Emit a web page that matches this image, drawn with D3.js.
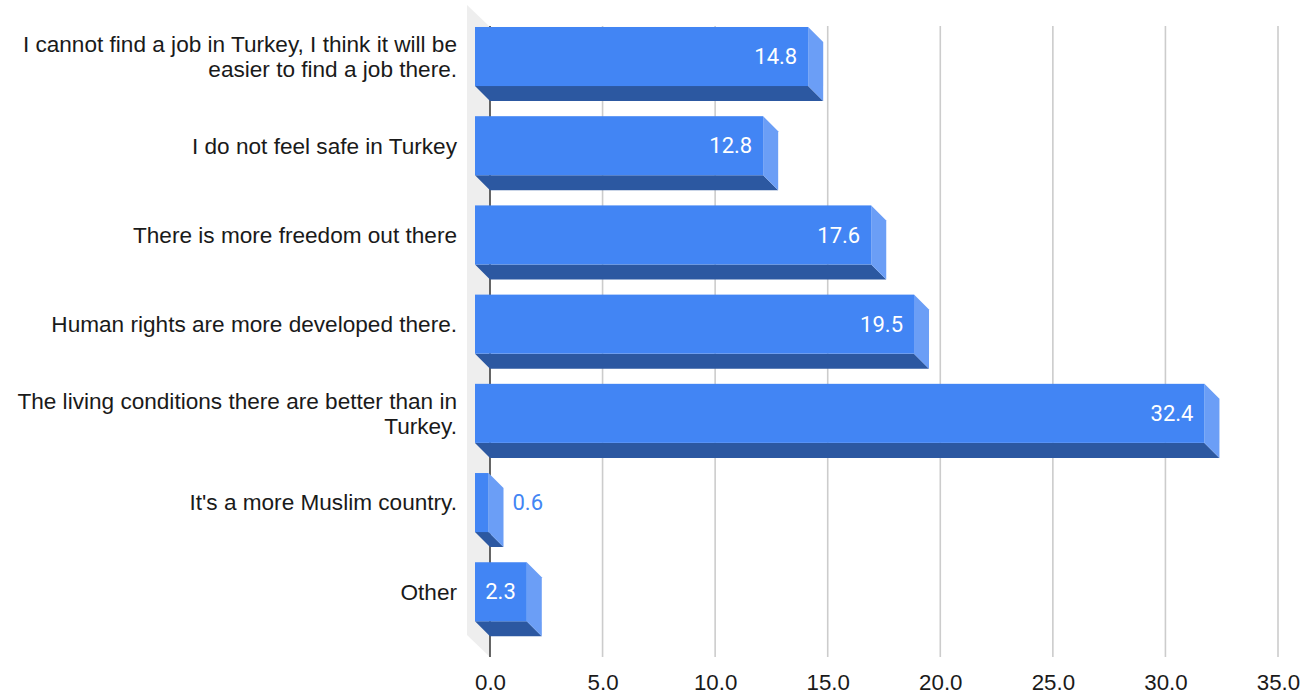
<!DOCTYPE html>
<html>
<head>
<meta charset="utf-8">
<script src="https://cdn.jsdelivr.net/npm/d3@7/dist/d3.min.js"></script>
<style>
  html, body { margin: 0; padding: 0; background: #ffffff; }
  svg { display: block; }
</style>
</head>
<body>
<svg id="chart" width="1313" height="698"></svg>
<script>
// ---- data ----
const categories = [
  "I cannot find a job in Turkey, I think it will be\neasier to find a job there.",
  "I do not feel safe in Turkey",
  "There is more freedom out there",
  "Human rights are more developed there.",
  "The living conditions there are better than in\nTurkey.",
  "It's a more Muslim country.",
  "Other"
];
const values = [14.8, 12.8, 17.6, 19.5, 32.4, 0.6, 2.3];
const tickValues = [0, 5, 10, 15, 20, 25, 30, 35];
const tickLabels = ["0.0", "5.0", "10.0", "15.0", "20.0", "25.0", "30.0", "35.0"];

// ---- layout ----
const plotLeft = 490, plotRight = 1278, plotTop = 27, plotBottom = 657;
const depth = 15;      // bar 3D depth
const wallDepth = 23;  // back wall depth
const labelFont = "'Liberation Sans', Arial, Helvetica, sans-serif";

const colFront = "#4285f4";
const colSide = "#6b9ef6";
const colBottom = "#2c58a1";

const svg = d3.select("#chart");

const x = d3.scaleLinear().domain([0, 35]).range([plotLeft, plotRight]);
const y = d3.scaleBand()
  .domain(categories)
  .range([plotTop, plotBottom])
  .paddingInner(0.338)
  .paddingOuter(0.2)
  .align(0.42);

// back wall
svg.append("polygon")
  .attr("points", [
    [plotLeft - wallDepth, plotTop - wallDepth + 1],
    [plotLeft, plotTop],
    [plotLeft, plotBottom],
    [plotLeft - wallDepth, plotBottom - wallDepth + 1]
  ].map(p => p.join(",")).join(" "))
  .attr("fill", "#eeeeee");

// gridlines
svg.append("g").selectAll("line")
  .data(tickValues.filter(d => d !== 0))
  .join("line")
  .attr("x1", d => x(d)).attr("x2", d => x(d))
  .attr("y1", plotTop - 1).attr("y2", plotBottom)
  .attr("stroke", "#cccccc")
  .attr("stroke-width", 1.6);

// zero axis line
svg.append("line")
  .attr("x1", x(0)).attr("x2", x(0))
  .attr("y1", plotTop - 1).attr("y2", plotBottom)
  .attr("stroke", "#333333")
  .attr("stroke-width", 1.5);

// tick labels via d3 axis
const axis = d3.axisBottom(x)
  .tickValues(tickValues)
  .tickFormat((d, i) => tickLabels[i])
  .tickSize(0)
  .tickPadding(0);
const axisG = svg.append("g")
  .attr("transform", `translate(0, ${plotBottom + 17})`)
  .call(axis);
axisG.select(".domain").remove();
axisG.selectAll("text")
  .attr("font-family", labelFont)
  .attr("font-size", "22.3px")
  .attr("fill", "#1a1a1a")
  .attr("dy", "0.71em");

// bars
const bars = svg.append("g").selectAll("g")
  .data(categories.map((c, i) => ({ c, v: values[i] })))
  .join("g");

bars.each(function(d) {
  const g = d3.select(this);
  const bx0 = x(0), bx1 = x(d.v);
  const by0 = y(d.c), bh = y.bandwidth();
  const fx0 = bx0 - depth, fx1 = bx1 - depth, fy0 = by0 - depth;
  // bottom face
  g.append("polygon")
    .attr("points", [[fx0, fy0 + bh], [fx1, fy0 + bh], [bx1, by0 + bh], [bx0, by0 + bh]].map(p => p.join(",")).join(" "))
    .attr("fill", colBottom);
  // side face
  g.append("polygon")
    .attr("points", [[fx1, fy0], [bx1, by0], [bx1, by0 + bh], [fx1, fy0 + bh]].map(p => p.join(",")).join(" "))
    .attr("fill", colSide);
  // front face
  g.append("rect")
    .attr("x", fx0).attr("y", fy0)
    .attr("width", fx1 - fx0).attr("height", bh)
    .attr("fill", colFront);

  // value label
  const label = d.v.toFixed(1);
  const t = g.append("text")
    .text(label)
    .attr("font-family", "Roboto, sans-serif")
    .attr("font-size", "22px")
    .attr("dy", "0.35em")
    .attr("y", fy0 + bh / 2);
  const tw = t.node().getComputedTextLength();
  if (tw + 18 < fx1 - fx0) {
    t.attr("x", fx1 - 11).attr("text-anchor", "end").attr("fill", "#ffffff");
  } else {
    t.attr("x", bx1 + 9).attr("text-anchor", "start").attr("fill", colFront);
  }

  // category label
  const lines = d.c.split("\n");
  const lh = 25.5;
  const cy = fy0 + bh / 2;
  const ct = g.append("text")
    .attr("font-family", labelFont)
    .attr("font-size", "22.6px")
    .attr("fill", "#1a1a1a")
    .attr("text-anchor", "end");
  lines.forEach((ln, i) => {
    ct.append("tspan")
      .attr("x", 457)
      .attr("y", cy + (i - (lines.length - 1) / 2) * lh)
      .attr("dy", "0.35em")
      .text(ln);
  });
});
</script>
</body>
</html>
